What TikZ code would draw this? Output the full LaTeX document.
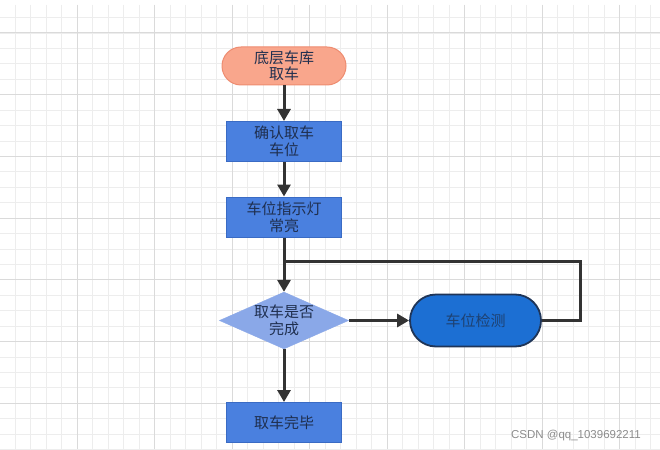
\documentclass[tikz,border=0pt]{standalone}
\usepackage{fontspec}
\setmainfont{Liberation Sans}
\newfontfamily\cjk{Noto Sans CJK SC}
\usetikzlibrary{arrows.meta,shapes.geometric}
\definecolor{gridminor}{HTML}{EDEDED}
\definecolor{gridmajor}{HTML}{DADADA}
\definecolor{orangefill}{HTML}{F9A68C}
\definecolor{orangeline}{HTML}{EE8C70}
\definecolor{bluefill}{HTML}{4A80DF}
\definecolor{blueline}{HTML}{3A6BC4}
\definecolor{diafill}{HTML}{8AA8E8}
\definecolor{stadfill}{HTML}{1C6FD3}
\definecolor{stadline}{HTML}{1F3558}
\definecolor{txt}{HTML}{1F2F4F}
\definecolor{arrowc}{HTML}{333333}
\tikzset{
  base/.style={font=\cjk\fontsize{15}{16.5}\selectfont, text=txt, align=center, inner sep=0pt},
  startbox/.style={base, draw=orangeline, fill=orangefill, line width=1pt, rounded corners=19pt, minimum width=124pt, minimum height=38pt},
  procbox/.style={base, draw=blueline, fill=bluefill, line width=1pt, minimum width=115pt, minimum height=40pt},
  decbox/.style={base, diamond, draw=diafill, fill=diafill, aspect=2.27, minimum width=125pt, minimum height=55pt, inner sep=0pt},
  stadbox/.style={base, draw=stadline, fill=stadfill, line width=1.8pt, rounded corners=26pt, minimum width=131pt, minimum height=52pt, text=stadline!80!stadfill},
  conn/.style={draw=arrowc, line width=3pt, -{Triangle[length=12pt,width=13pt]}},
  plain/.style={draw=arrowc, line width=3pt}
}
\begin{document}
\begin{tikzpicture}[x=1pt,y=-1pt]
\useasboundingbox (0,0) rectangle (660,449);
\fill[white] (0,0) rectangle (660,449);
% grid
\foreach \k in {0,...,42} {
  \draw[gridminor, line width=0.8pt] ({15.5*\k-0.5},5) -- ({15.5*\k-0.5},449);
}
\foreach \m in {-1,...,27} {
  \draw[gridminor, line width=0.8pt] (0,{33+15.43*\m}) -- (660,{33+15.43*\m});
}
\foreach \k in {1,...,8} {
  \draw[gridmajor, line width=1pt] ({77.5*\k-0.5},5) -- ({77.5*\k-0.5},449);
}
\foreach \m in {0,...,6} {
  \draw[gridmajor, line width=1pt] (0,{33+61.7*\m}) -- (660,{33+61.7*\m});
}
% nodes
\node[startbox] (start) at (284,66) {底层车库\\取车};
\node[procbox] (confirm) at (284,141.5) {确认取车\\车位};
\node[procbox] (light) at (284,217) {车位指示灯\\常亮};
\node[decbox] (dec) at (284,320.5) {取车是否\\完成};
\node[stadbox] (detect) at (475.5,320.5) {车位检测};
\node[procbox] (done) at (284,422.5) {取车完毕};
\coordinate (join) at (284,261);
\coordinate (rt) at (580,320.5);
\coordinate (rtop) at (580,261);
% connectors
\draw[conn] (start) -- (confirm);
\draw[conn] (confirm) -- (light);
\draw[conn] (light) -- (dec);
\draw[plain] (detect.east) -- (rt) -- (rtop) -- (join);
\draw[conn] (dec.east) -- (detect.west);
\draw[conn] (dec) -- (done);
% watermark
\node[font=\fontsize{11.5}{13}\selectfont, text=black!45, anchor=east, inner sep=0pt] (wm) at (641,436) {CSDN @qq\_1039692211};
\end{tikzpicture}
\end{document}
